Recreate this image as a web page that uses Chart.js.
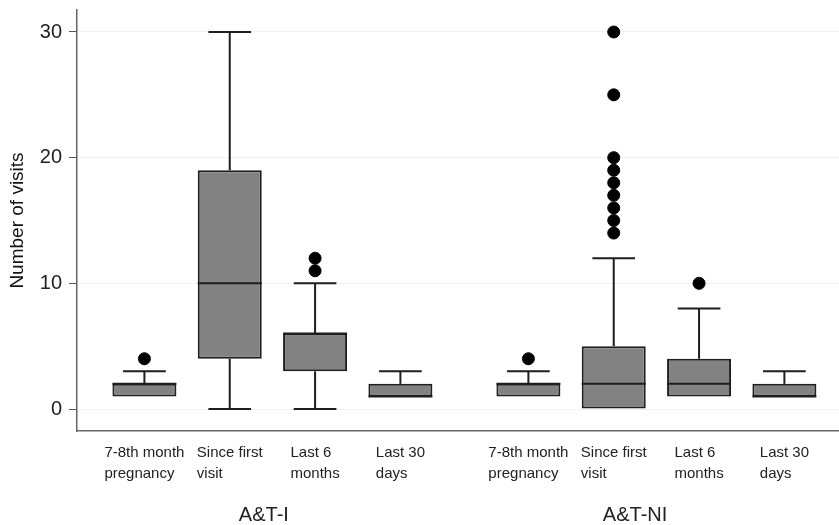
<!DOCTYPE html>
<html>
<head>
<meta charset="utf-8">
<script src="https://cdn.jsdelivr.net/npm/chart.js@4"></script>
<style>
html, body { margin: 0; padding: 0; background: #fff; }
</style>
</head>
<body>
<canvas id="chart" width="839" height="525"></canvas>
<script>
// --- data ---
const categories = [['7-8th month', 'pregnancy'], ['Since first', 'visit'], ['Last 6', 'months'], ['Last 30', 'days']];
const groups = ['A&T-I', 'A&T-NI'];
const positions = [1, 2, 3, 4, 5.5, 6.5, 7.5, 8.5];
const groupCenters = [2.4, 6.75];
const lowerWhisker = [1, 0, 0, 1, 1, 0, 1, 1];
const q1 = [1, 4, 3, 1, 1, 0, 1, 1];
const median = [2, 10, 6, 1, 2, 2, 2, 1];
const q3 = [2, 19, 6, 2, 2, 5, 4, 2];
const upperWhisker = [3, 30, 10, 3, 3, 12, 8, 3];
const outliers = [[4], [], [11, 12], [], [4], [14, 15, 16, 17, 18, 19, 20, 25, 30], [10], []];
const yTicks = [0, 10, 20, 30];

const FONT = '"Liberation Sans", Arial, sans-serif';
const LINE = '#1e1e1e';

// whiskers, caps and median lines, placed through the chart scales
const whiskerPlugin = {
    id: 'whiskers',
    afterDatasetsDraw(chart) {
        const xs = chart.scales.x, ys = chart.scales.y;
        const bars = chart.getDatasetMeta(0).data;
        const ctx = chart.ctx;
        ctx.save();
        ctx.strokeStyle = LINE;
        ctx.lineWidth = 2;
        positions.forEach((p, i) => {
            const x = xs.getPixelForValue(p);
            const half = bars[i].width / 2;
            const cap = bars[i].width / 3;
            const line = (x1, y1, x2, y2) => {
                ctx.beginPath();
                ctx.moveTo(x1, y1);
                ctx.lineTo(x2, y2);
                ctx.stroke();
            };
            if (upperWhisker[i] > q3[i]) {
                const yw = ys.getPixelForValue(upperWhisker[i]);
                line(x, ys.getPixelForValue(q3[i]), x, yw);
                line(x - cap, yw, x + cap, yw);
            }
            if (lowerWhisker[i] < q1[i]) {
                const yw = ys.getPixelForValue(lowerWhisker[i]);
                line(x, ys.getPixelForValue(q1[i]), x, yw);
                line(x - cap, yw, x + cap, yw);
            }
            const ym = ys.getPixelForValue(median[i]);
            line(x - half, ym, x + half, ym);
        });
        ctx.restore();
    }
};

// category labels (left-aligned block centred under each box) and group labels
const labelPlugin = {
    id: 'catLabels',
    afterDraw(chart) {
        const xs = chart.scales.x;
        const ctx = chart.ctx;
        ctx.save();
        ctx.fillStyle = '#222';
        ctx.textBaseline = 'middle';
        ctx.font = '15px ' + FONT;
        ctx.textAlign = 'left';
        positions.forEach((p, i) => {
            const lines = categories[i % categories.length];
            const w = Math.max(...lines.map(l => ctx.measureText(l).width));
            const left = xs.getPixelForValue(p) - w / 2;
            lines.forEach((l, k) => ctx.fillText(l, left, xs.top + 22 + k * 21));
        });
        ctx.font = '20px ' + FONT;
        ctx.textAlign = 'center';
        groups.forEach((g, k) => {
            ctx.fillText(g, xs.getPixelForValue(groupCenters[k]), xs.top + 84);
        });
        ctx.restore();
    }
};

new Chart(document.getElementById('chart'), {
    type: 'bar',
    data: {
        datasets: [{
            label: 'IQR',
            data: positions.map((p, i) => ({ x: p, y: [q1[i], q3[i]] })),
            backgroundColor: '#828282',
            borderColor: LINE,
            borderWidth: 2,
            borderSkipped: false,
            categoryPercentage: 1,
            barPercentage: 0.75
        }, {
            type: 'scatter',
            label: 'Outliers',
            data: positions.flatMap((p, i) => outliers[i].map(v => ({ x: p, y: v }))),
            backgroundColor: '#000',
            borderColor: '#000',
            pointRadius: 6,
            pointBorderWidth: 1
        }]
    },
    options: {
        responsive: false,
        animation: false,
        devicePixelRatio: 1,
        layout: { autoPadding: false, padding: { top: 10, right: 0, left: 0, bottom: 0 } },
        plugins: {
            legend: { display: false },
            tooltip: { enabled: false }
        },
        scales: {
            x: {
                type: 'linear',
                offset: false,
                min: 0.21,
                max: 9.14,
                afterBuildTicks: axis => { axis.ticks = positions.map(v => ({ value: v })); },
                grid: { display: false, offset: false },
                ticks: { display: false },
                border: { color: '#666', width: 1.5 },
                afterFit: scale => {
                    scale.height = 94;
                    scale.paddingLeft = 0;
                    scale.paddingRight = 0;
                }
            },
            y: {
                min: -1.75,
                max: 31.75,
                afterBuildTicks: axis => { axis.ticks = yTicks.map(v => ({ value: v })); },
                grid: { color: '#edf2f6', lineWidth: 1, tickColor: '#555', tickLength: 8 },
                border: { color: '#666', width: 1.5 },
                ticks: { color: '#222', font: { family: FONT, size: 20 }, padding: 7 },
                title: {
                    display: true,
                    text: 'Number of visits',
                    color: '#111',
                    font: { family: FONT, size: 19, lineHeight: 1 },
                    padding: { top: 8, bottom: 0 }
                },
                afterFit: scale => {
                    scale.width = 77;
                    scale.paddingTop = 0;
                    scale.paddingBottom = 0;
                }
            }
        }
    },
    plugins: [whiskerPlugin, labelPlugin]
});
</script>
</body>
</html>
